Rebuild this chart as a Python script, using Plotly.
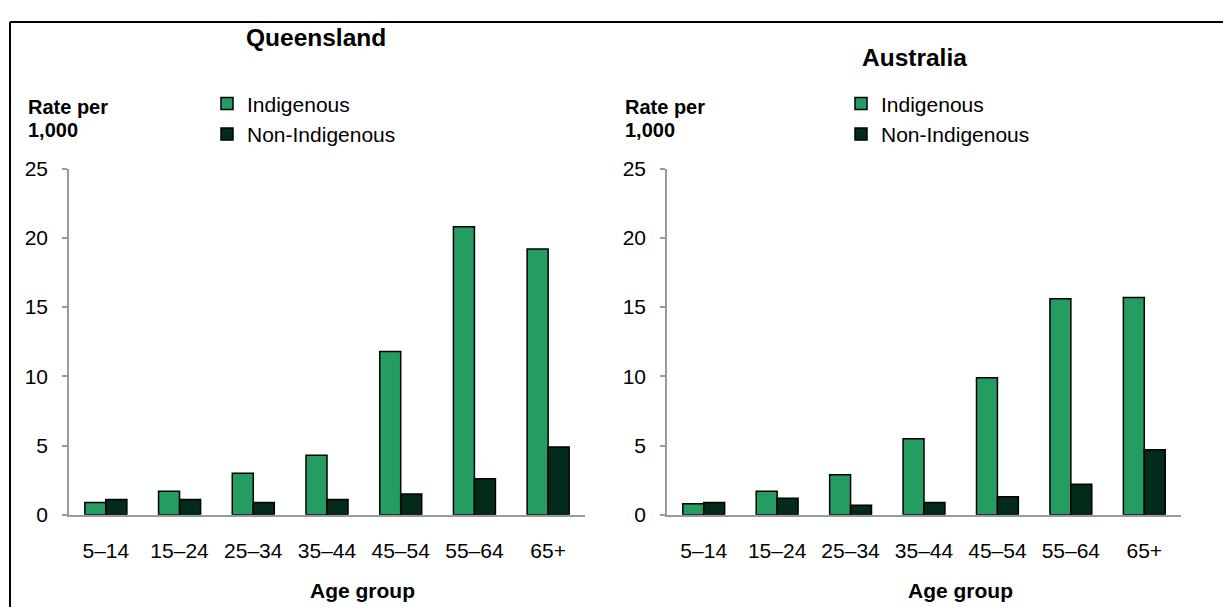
import plotly.graph_objects as go

PAGE_W, PAGE_H = 1231, 615
OFF = 8  # default body margin of the html page
W, H = PAGE_W - 2 * OFF, PAGE_H - 2 * OFF

age_groups = ["5–14", "15–24", "25–34", "35–44", "45–54", "55–64", "65+"]
qld_indigenous = [0.9, 1.7, 3.0, 4.3, 11.8, 20.8, 19.2]
qld_non_indigenous = [1.1, 1.1, 0.9, 1.1, 1.5, 2.6, 4.9]
aus_indigenous = [0.8, 1.7, 2.9, 5.5, 9.9, 15.6, 15.7]
aus_non_indigenous = [0.9, 1.2, 0.7, 0.9, 1.3, 2.2, 4.7]
y_ticks = [0, 5, 10, 15, 20, 25]

GREEN = "#259C60"
DARK = "#022B1A"
FONT = "Liberation Sans, Arial, sans-serif"


def px_x(x):
    return (x - OFF) / W


def px_y(y):
    return 1 - (y - OFF) / H


fig = go.Figure()

for vals, name, color, xa, ya, leg in [
    (qld_indigenous, "Indigenous", GREEN, "x", "y", "legend"),
    (qld_non_indigenous, "Non-Indigenous", DARK, "x", "y", "legend"),
    (aus_indigenous, "Indigenous", GREEN, "x2", "y2", "legend2"),
    (aus_non_indigenous, "Non-Indigenous", DARK, "x2", "y2", "legend2"),
]:
    fig.add_trace(go.Bar(
        x=age_groups, y=vals, name=name, xaxis=xa, yaxis=ya,
        marker=dict(color=color, line=dict(color="#000000", width=1.5)),
        legend=leg, legendgroup=name + leg, showlegend=True,
        hoverinfo="x+y+name",
    ))

ydom = [px_y(522.6), px_y(162.5)]
axis_grey = "#9A9A9A"

xcommon = dict(showline=True, linecolor=axis_grey, linewidth=1.5, ticks="",
               showgrid=False, zeroline=False, type="category",
               tickfont=dict(family=FONT, size=21, color="#000000"),
               ticklabelstandoff=16, fixedrange=True)
ycommon = dict(range=[0, 25], tickvals=y_ticks, showline=True, linecolor=axis_grey,
               linewidth=1.5, ticks="outside", ticklen=5, tickcolor=axis_grey,
               tickwidth=1.5, showgrid=False, zeroline=False,
               tickfont=dict(family=FONT, size=21, color="#000000"),
               ticklabelstandoff=10, fixedrange=True, domain=ydom)

legend_common = dict(font=dict(family=FONT, size=21, color="#000000"),
                     bgcolor="rgba(0,0,0,0)", borderwidth=0,
                     traceorder="grouped", tracegroupgap=0,
                     itemwidth=30, xanchor="left", yanchor="top")

fig.update_layout(
    width=W, height=H,
    margin=dict(l=0, r=0, t=0, b=0),
    paper_bgcolor="white", plot_bgcolor="white",
    barmode="group", bargap=0.43, bargroupgap=0,
    font=dict(family=FONT, color="#000000"),
    xaxis=dict(domain=[px_x(69), px_x(585)], anchor="y", **xcommon),
    yaxis=dict(anchor="x", **ycommon),
    xaxis2=dict(domain=[px_x(667), px_x(1181)], anchor="y2", **xcommon),
    yaxis2=dict(anchor="x2", **ycommon),
    legend=dict(x=px_x(207), y=px_y(74), **legend_common),
    legend2=dict(x=px_x(841), y=px_y(74), **legend_common),
)

annotations = [
    dict(text="<b>Queensland</b>", x=px_x(316), y=px_y(26), xanchor="center", yanchor="middle",
         font=dict(size=24.5)),
    dict(text="<b>Australia</b>", x=px_x(914), y=px_y(47), xanchor="center", yanchor="middle",
         font=dict(size=24.5)),
    dict(text="<b>Rate per</b>", x=px_x(26), y=px_y(98), xanchor="left", yanchor="middle",
         font=dict(size=20)),
    dict(text="<b>1,000</b>", x=px_x(26), y=px_y(122), xanchor="left", yanchor="middle",
         font=dict(size=20)),
    dict(text="<b>Rate per</b>", x=px_x(623), y=px_y(98), xanchor="left", yanchor="middle",
         font=dict(size=20)),
    dict(text="<b>1,000</b>", x=px_x(623), y=px_y(122), xanchor="left", yanchor="middle",
         font=dict(size=20)),
    dict(text="<b>Age group</b>", x=px_x(362), y=px_y(601), xanchor="center", yanchor="middle",
         font=dict(size=21)),
    dict(text="<b>Age group</b>", x=px_x(960), y=px_y(601), xanchor="center", yanchor="middle",
         font=dict(size=21)),
]
for a in annotations:
    a.update(xref="paper", yref="paper", showarrow=False)
    a["font"].update(family=FONT, color="#000000")
fig.update_layout(annotations=annotations)

fig.update_layout(shapes=[
    dict(type="line", xref="paper", yref="paper", x0=px_x(10), x1=px_x(10),
         y0=-0.05, y1=px_y(10), line=dict(color="#000000", width=2)),
    dict(type="line", xref="paper", yref="paper", x0=px_x(10), x1=1.05,
         y0=px_y(10), y1=px_y(10), line=dict(color="#000000", width=2)),
])

fig.write_html("out.html", config=dict(displayModeBar=False))
